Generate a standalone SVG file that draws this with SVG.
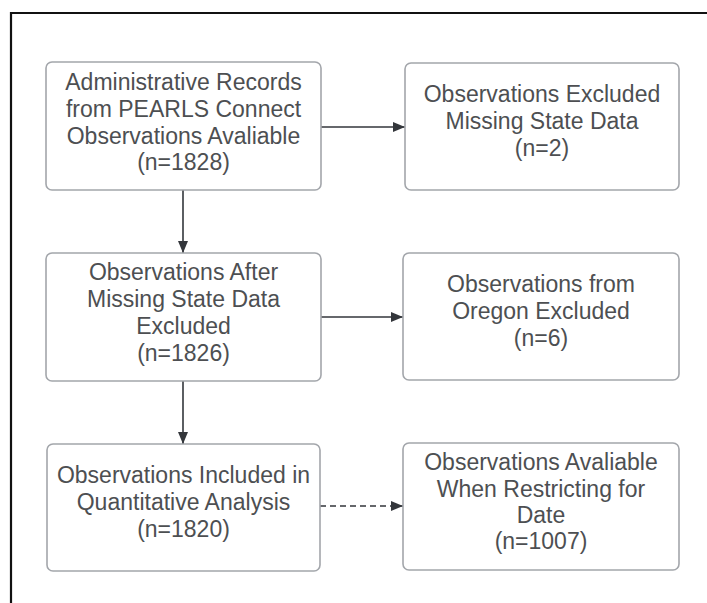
<svg xmlns="http://www.w3.org/2000/svg" width="707" height="603" viewBox="0 0 707 603">
<defs>
<style>
.box{fill:#ffffff;stroke:#a3a6ab;stroke-width:1.6}
.t{font-family:"Liberation Sans",Arial,sans-serif;font-size:23px;fill:#4d4f52;text-anchor:middle}
.c{stroke:#33363b;stroke-width:1.6;fill:none}
</style>
<marker id="ah" viewBox="0 0 12 10" refX="12" refY="5" markerWidth="12" markerHeight="10" markerUnits="userSpaceOnUse" orient="auto">
<path d="M0,0 L12,5 L0,10 Z" fill="#33363b"/>
</marker>
</defs>
<rect width="707" height="603" fill="#ffffff"/>
<g id="frame">
<line x1="11" y1="13" x2="707" y2="13" stroke="#111" stroke-width="2.2"/>
<line x1="11" y1="12" x2="11" y2="603" stroke="#111" stroke-width="2.2"/>
</g>
<g id="connectors">
<line class="c" x1="183" y1="190" x2="183" y2="253" marker-end="url(#ah)"/>
<line class="c" x1="183" y1="381" x2="183" y2="444" marker-end="url(#ah)"/>
<line class="c" x1="321" y1="127" x2="405" y2="127" marker-end="url(#ah)"/>
<line class="c" x1="321" y1="317" x2="403" y2="317" marker-end="url(#ah)"/>
<line class="c" x1="320" y1="506" x2="403" y2="506" stroke-dasharray="6,4" marker-end="url(#ah)"/>
</g>
<g id="n1">
<rect class="box" x="46" y="62" width="275" height="128" rx="6"/>
<text class="t" x="183.5" y="90">Administrative Records</text>
<text class="t" x="183.5" y="117">from PEARLS Connect</text>
<text class="t" x="183.5" y="144">Observations Avaliable</text>
<text class="t" x="183.5" y="170">(n=1828)</text>
</g>
<g id="n2">
<rect class="box" x="405" y="63" width="274" height="127" rx="6"/>
<text class="t" x="542" y="102">Observations Excluded</text>
<text class="t" x="542" y="129">Missing State Data</text>
<text class="t" x="542" y="156">(n=2)</text>
</g>
<g id="n3">
<rect class="box" x="46" y="253" width="275" height="128" rx="6"/>
<text class="t" x="183.5" y="280">Observations After</text>
<text class="t" x="183.5" y="307">Missing State Data</text>
<text class="t" x="183.5" y="334">Excluded</text>
<text class="t" x="183.5" y="361">(n=1826)</text>
</g>
<g id="n4">
<rect class="box" x="403" y="253" width="276" height="127" rx="6"/>
<text class="t" x="541" y="292">Observations from</text>
<text class="t" x="541" y="319">Oregon Excluded</text>
<text class="t" x="541" y="346">(n=6)</text>
</g>
<g id="n5">
<rect class="box" x="47" y="444" width="273" height="127" rx="6"/>
<text class="t" x="183.5" y="483">Observations Included in</text>
<text class="t" x="183.5" y="510">Quantitative Analysis</text>
<text class="t" x="183.5" y="537">(n=1820)</text>
</g>
<g id="n6">
<rect class="box" x="403" y="443" width="276" height="127" rx="6"/>
<text class="t" x="541" y="470">Observations Avaliable</text>
<text class="t" x="541" y="497">When Restricting for</text>
<text class="t" x="541" y="523">Date</text>
<text class="t" x="541" y="549">(n=1007)</text>
</g>
</svg>
